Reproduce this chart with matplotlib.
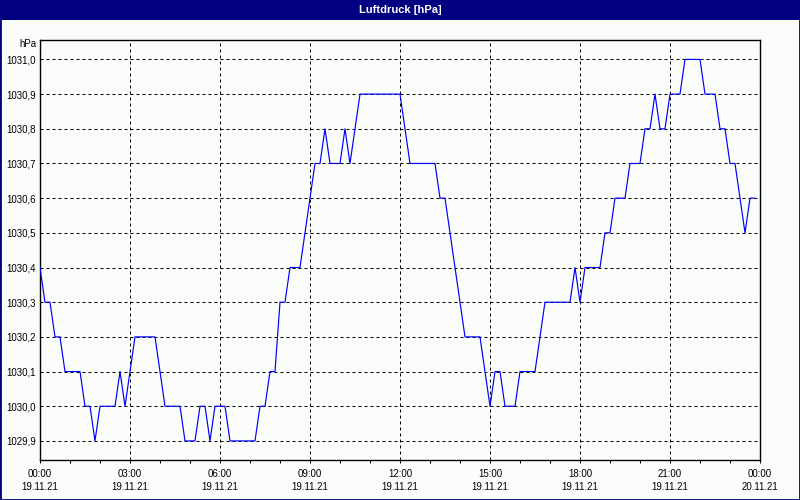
import numpy as np
import pandas as pd
import matplotlib
matplotlib.use("Agg")
import matplotlib.pyplot as plt
import matplotlib.dates as mdates
from matplotlib.patches import Rectangle

# Luftdruck, 10-Minuten-Werte vom 19.11.21
start = "2021-11-19 00:00"
end = "2021-11-20 00:00"
pressure = [
    1030.4, 1030.3, 1030.3, 1030.2, 1030.2, 1030.1, 1030.1, 1030.1, 1030.1, 1030.0,
    1030.0, 1029.9, 1030.0, 1030.0, 1030.0, 1030.0, 1030.1, 1030.0, 1030.1, 1030.2,
    1030.2, 1030.2, 1030.2, 1030.2, 1030.1, 1030.0, 1030.0, 1030.0, 1030.0, 1029.9,
    1029.9, 1029.9, 1030.0, 1030.0, 1029.9, 1030.0, 1030.0, 1030.0, 1029.9, 1029.9,
    1029.9, 1029.9, 1029.9, 1029.9, 1030.0, 1030.0, 1030.1, 1030.1, 1030.3, 1030.3,
    1030.4, 1030.4, 1030.4, 1030.5, 1030.6, 1030.7, 1030.7, 1030.8, 1030.7, 1030.7,
    1030.7, 1030.8, 1030.7, 1030.8, 1030.9, 1030.9, 1030.9, 1030.9, 1030.9, 1030.9,
    1030.9, 1030.9, 1030.9, 1030.8, 1030.7, 1030.7, 1030.7, 1030.7, 1030.7, 1030.7,
    1030.6, 1030.6, 1030.5, 1030.4, 1030.3, 1030.2, 1030.2, 1030.2, 1030.2, 1030.1,
    1030.0, 1030.1, 1030.1, 1030.0, 1030.0, 1030.0, 1030.1, 1030.1, 1030.1, 1030.1,
    1030.2, 1030.3, 1030.3, 1030.3, 1030.3, 1030.3, 1030.3, 1030.4, 1030.3, 1030.4,
    1030.4, 1030.4, 1030.4, 1030.5, 1030.5, 1030.6, 1030.6, 1030.6, 1030.7, 1030.7,
    1030.7, 1030.8, 1030.8, 1030.9, 1030.8, 1030.8, 1030.9, 1030.9, 1030.9, 1031.0,
    1031.0, 1031.0, 1031.0, 1030.9, 1030.9, 1030.9, 1030.8, 1030.8, 1030.7, 1030.7,
    1030.6, 1030.5, 1030.6, 1030.6,
]
y_ticks = [1029.9, 1030.0, 1030.1, 1030.2, 1030.3, 1030.4, 1030.5,
           1030.6, 1030.7, 1030.8, 1030.9, 1031.0]

times = pd.date_range(start, periods=len(pressure), freq="10min")

navy = "#000080"
bg = "#FBFDFB"
plt.rcParams["font.family"] = ["Liberation Sans", "DejaVu Sans"]

fig = plt.figure(figsize=(8, 5), dpi=100, facecolor=bg)

# title bar and frame
fig.patches.append(Rectangle((0, 0.96), 1, 0.04, transform=fig.transFigure,
                             facecolor=navy, edgecolor="none", zorder=0))
fig.patches.append(Rectangle((0, 0), 1, 1, transform=fig.transFigure,
                             fill=False, edgecolor=navy, linewidth=2.0, zorder=5))
fig.text(0.5, 0.98, "Luftdruck [hPa]", color="white", fontsize=8,
         fontweight="bold", ha="center", va="center")

ax = fig.add_axes([0.05, 0.08, 0.9, 0.84])
ax.set_facecolor(bg)
ax.plot(times, pressure, color="#0000FF", linewidth=0.85, zorder=3)

ax.set_xlim(pd.Timestamp(start), pd.Timestamp(end))
ax.set_ylim(1029.845, 1031.056)
ax.set_yticks(y_ticks)
ax.set_yticklabels([f"{v:.1f}".replace(".", ",") for v in y_ticks])

ax.xaxis.set_major_locator(mdates.HourLocator(byhour=range(0, 24, 3)))
ax.xaxis.set_minor_locator(mdates.HourLocator())
ax.xaxis.set_major_formatter(mdates.DateFormatter("%H:%M\n%d.%m.%y"))

ax.grid(True, which="major", color="black", linestyle=(0, (3, 3)), linewidth=0.72)
ax.tick_params(axis="x", which="both", length=2.2, width=0.72, direction="out",
               labelsize=7, pad=4.5)
ax.tick_params(axis="y", length=0, labelsize=7, pad=3)
for lbl in ax.get_xticklabels():
    lbl.set_linespacing(1.3)
for s in ax.spines.values():
    s.set_color("black")
    s.set_linewidth(1.0)

fig.text(36 / 800, 1 - 44 / 500, "hPa", fontsize=7, ha="right", va="center")

fig.savefig("out.png", dpi=100, facecolor=bg)
